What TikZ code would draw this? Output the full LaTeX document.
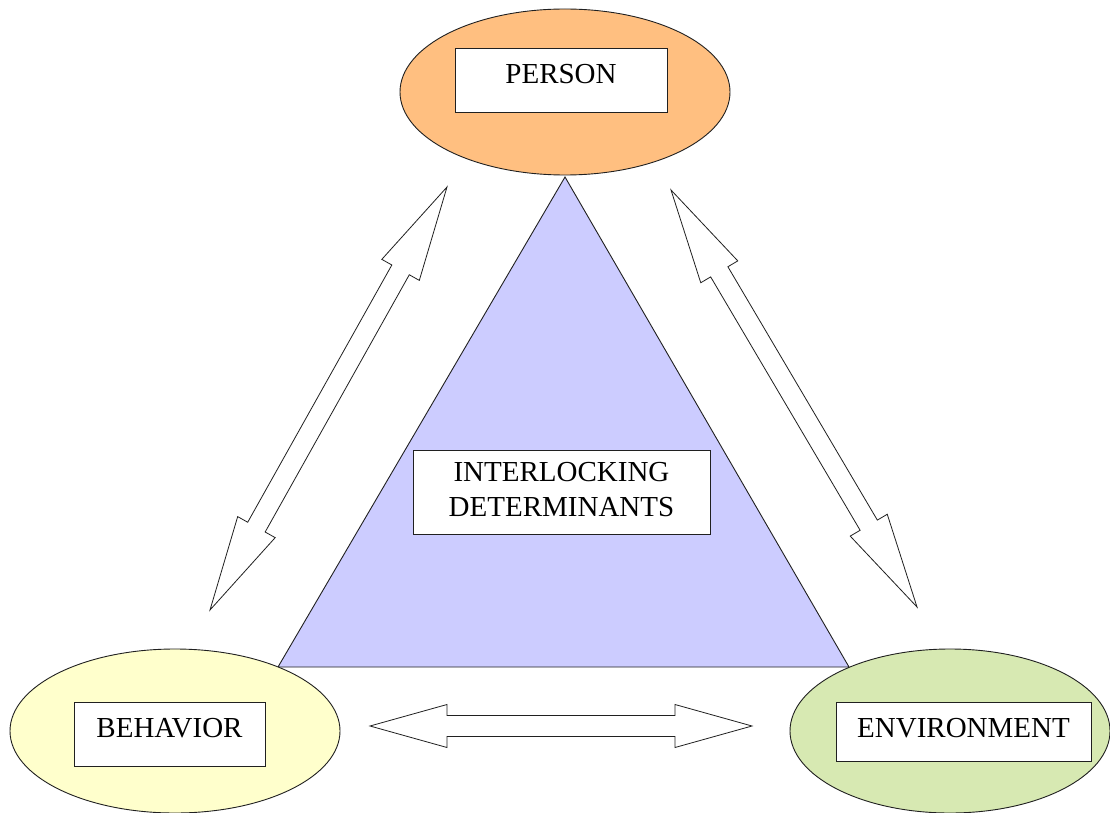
\documentclass[tikz,border=0pt]{standalone}
\usepackage{fontspec}
\setmainfont{Liberation Serif}
\usetikzlibrary{calc}
\definecolor{personfill}{HTML}{FFBF80}
\definecolor{behavfill}{HTML}{FFFFCC}
\definecolor{envfill}{HTML}{D7E9B2}
\definecolor{trifill}{HTML}{CCCCFF}
\definecolor{edge}{HTML}{202020}
\newcommand\fatarrow[4]{% start, end, head length, shaft half width
  \draw[arrowsty] (#1)
    -- ($($(#1)!#3!(#2)$)!21.5pt!90:(#2)$)
    -- ($($(#1)!#3!(#2)$)!#4!90:(#2)$)
    -- ($($(#2)!#3!(#1)$)!#4!-90:(#1)$)
    -- ($($(#2)!#3!(#1)$)!21.5pt!-90:(#1)$)
    -- (#2)
    -- ($($(#2)!#3!(#1)$)!21.5pt!90:(#1)$)
    -- ($($(#2)!#3!(#1)$)!#4!90:(#1)$)
    -- ($($(#1)!#3!(#2)$)!#4!-90:(#2)$)
    -- ($($(#1)!#3!(#2)$)!21.5pt!-90:(#2)$)
    -- cycle;}
\begin{document}
\begin{tikzpicture}[x=1pt,y=-1pt,
  every node/.style={font=\fontsize{29}{35}\selectfont},
  oval/.style={draw=edge,line width=0.9pt},
  labelbox/.style={draw=edge,fill=white,line width=0.9pt,inner xsep=0pt,inner ysep=0pt,anchor=base,align=center},
  arrowsty/.style={draw=edge,fill=white,line width=0.8pt,line join=miter}]
\useasboundingbox (0,0) rectangle (1110,813);
\fill[white] (0,0) rectangle (1110,813);
\begin{scope}
\clip (0,0) rectangle (1110,813);
% triangle
\coordinate (apex) at (565,177);
\coordinate (bl) at (278,667);
\coordinate (br) at (849,667);
\draw[fill=trifill,draw=edge,line width=0.9pt] (apex) -- (br) -- (bl) -- cycle;
% ellipses
\draw[oval,fill=personfill] (565,92) ellipse [x radius=165,y radius=83];
\draw[oval,fill=behavfill] (175,731) ellipse [x radius=165,y radius=82];
\draw[oval,fill=envfill] (950,731) ellipse [x radius=160,y radius=82];
\end{scope}
% label boxes
\node[labelbox,minimum width=212pt,text height=36pt,text depth=28pt] (person) at (561,84) {PERSON};
\node[labelbox,minimum width=191pt,text height=35pt,text depth=29pt] (behavior) at (169.5,737) {BEHAVIOR};
\node[labelbox,minimum width=255pt,text height=35pt,text depth=24pt] (environment) at (963.5,737) {ENVIRONMENT};
\node[labelbox,minimum width=297pt,text height=66pt,text depth=18pt] (interlock) at (561.5,516) {INTERLOCKING\\DETERMINANTS};
% arrows
\coordinate (la) at (210,610);
\coordinate (lb) at (447,187);
\coordinate (ra) at (671,190);
\coordinate (rb) at (917,607);
\coordinate (ha) at (370,726);
\coordinate (hb) at (752,726);
\fatarrow{la}{lb}{95pt}{10pt}
\fatarrow{ra}{rb}{95pt}{10pt}
\fatarrow{ha}{hb}{77pt}{10.5pt}
\end{tikzpicture}
\end{document}
